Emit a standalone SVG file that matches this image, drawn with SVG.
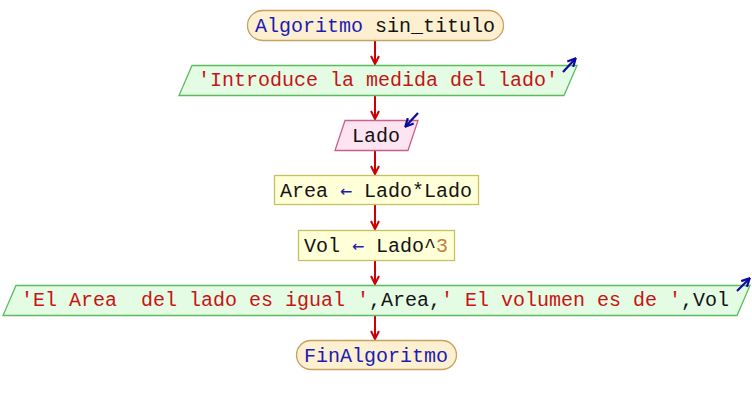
<svg xmlns="http://www.w3.org/2000/svg" width="752" height="405" viewBox="0 0 752 405">
<defs>
<style>
.t{font-family:"Liberation Mono","Courier New",monospace;font-size:20px;text-anchor:middle}
.kw{fill:#1c1cb4}
.st{fill:#c81414}
.id{fill:#141414}
.num{fill:#c08040}
.op{fill:#1c1cb4;font-family:"DejaVu Sans Mono",monospace;font-weight:200}
.term{fill:#fdf0d0;stroke:#c8a060;stroke-width:1.3}
.out{fill:#e4fbe4;stroke:#5cbc5c;stroke-width:1.3}
.in{fill:#fde4f0;stroke:#c8608c;stroke-width:1.3}
.asg{fill:#ffffd8;stroke:#c8c060;stroke-width:1.3}
.con{stroke:#cc0000;stroke-width:2;fill:none}
.io{stroke:#0a0a9c;stroke-width:2.2;fill:none}
</style>
<marker id="ah" viewBox="0 0 10 10" refX="9" refY="5" markerWidth="10" markerHeight="10" markerUnits="userSpaceOnUse" orient="auto">
<path d="M1,1 L9,5 L1,9" fill="none" stroke="#cc0000" stroke-width="2"/>
</marker>
<marker id="bh" viewBox="0 0 10 10" refX="8" refY="5" markerWidth="10" markerHeight="10" markerUnits="userSpaceOnUse" orient="auto">
<path d="M1,1 L9,5 L1,9" fill="none" stroke="#0a0a9c" stroke-width="2.2"/>
</marker>
</defs>
<rect width="752" height="405" fill="#ffffff"/>
<g id="connectors">
<line class="con" x1="375" y1="41" x2="375" y2="64" marker-end="url(#ah)"/>
<line class="con" x1="375" y1="95" x2="375" y2="119" marker-end="url(#ah)"/>
<line class="con" x1="375" y1="150" x2="375" y2="174" marker-end="url(#ah)"/>
<line class="con" x1="375" y1="205" x2="375" y2="229" marker-end="url(#ah)"/>
<line class="con" x1="375" y1="261" x2="375" y2="284" marker-end="url(#ah)"/>
<line class="con" x1="375" y1="315" x2="375" y2="339" marker-end="url(#ah)"/>
</g>
<g id="start">
<rect class="term" x="247.5" y="10.5" width="256" height="30" rx="15" ry="15"/>
<text class="t" x="375" y="32"><tspan class="kw">Algoritmo</tspan><tspan class="id"> sin_titulo</tspan></text>
</g>
<g id="out1">
<polygon class="out" points="192,65.5 577,65.5 564,95.5 179,95.5"/>
<text class="t st" x="378" y="86">'Introduce la medida del lado'</text>
<line class="io" x1="563" y1="72" x2="575" y2="59" marker-end="url(#bh)"/>
</g>
<g id="in1">
<polygon class="in" points="345,120.5 418,120.5 408,150.5 335,150.5"/>
<text class="t id" x="376" y="142">Lado</text>
<line class="io" x1="418" y1="113" x2="406" y2="126" marker-end="url(#bh)"/>
</g>
<g id="asg1">
<rect class="asg" x="274.5" y="175.5" width="204" height="29"/>
<text class="t" x="376" y="197"><tspan class="id">Area </tspan><tspan class="op">←</tspan><tspan class="id"> Lado*Lado</tspan></text>
</g>
<g id="asg2">
<rect class="asg" x="298.5" y="230.5" width="156" height="30"/>
<text class="t" x="376" y="252"><tspan class="id">Vol </tspan><tspan class="op">←</tspan><tspan class="id"> Lado^</tspan><tspan class="num">3</tspan></text>
</g>
<g id="out2">
<polygon class="out" points="16,285.5 750,285.5 737,315.5 3,315.5"/>
<text class="t" x="375" y="306" xml:space="preserve"><tspan class="st">'El Area  del lado es igual '</tspan><tspan class="id">,Area,</tspan><tspan class="st">' El volumen es de '</tspan><tspan class="id">,Vol</tspan></text>
<line class="io" x1="737" y1="291" x2="749" y2="279" marker-end="url(#bh)"/>
</g>
<g id="end">
<rect class="term" x="296.5" y="340.5" width="160" height="29" rx="14.5" ry="14.5"/>
<text class="t kw" x="376" y="362">FinAlgoritmo</text>
</g>
</svg>
